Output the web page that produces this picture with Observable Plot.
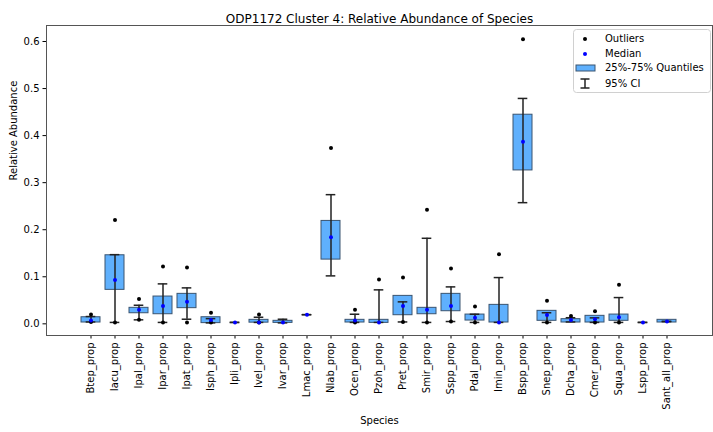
<!DOCTYPE html>
<html><head><meta charset="utf-8">
<script src="https://cdn.jsdelivr.net/npm/d3@7"></script>
<script src="https://cdn.jsdelivr.net/npm/@observablehq/plot@0.6"></script>
<style>
body{margin:0;background:#fff;font-family:"DejaVu Sans",sans-serif;}
#wrap{position:relative;width:713px;height:432px;overflow:hidden;}
#legend{position:absolute;left:573px;top:29px;}
</style></head><body><div id="wrap"></div>
<script>
const species = ["Btep_prop","Iacu_prop","Ipal_prop","Ipar_prop","Ipat_prop","Isph_prop","Ipli_prop","Ivel_prop","Ivar_prop","Lmac_prop","Nlab_prop","Ocen_prop","Pzoh_prop","Pret_prop","Smir_prop","Sspp_prop","Pdal_prop","Imin_prop","Bspp_prop","Snep_prop","Dcha_prop","Cmer_prop","Squa_prop","Lspp_prop","Sant_all_prop"];
const q1 =     [0.0028,0.0722,0.0225,0.0204,0.0333,0.0015,0.003,0.0025,0.002,0.0195,0.1365,0.0028,0.002,0.0183,0.0204,0.0268,0.007,0.0028,0.326,0.0064,0.0028,0.0028,0.0064,0.003,0.0028];
const q3 =     [0.014,0.1457,0.034,0.058,0.0637,0.014,0.003,0.0085,0.0064,0.0195,0.2187,0.0085,0.0085,0.0594,0.034,0.0637,0.0197,0.0403,0.4444,0.0276,0.0099,0.017,0.0197,0.003,0.0085];
const median = [0.007,0.0934,0.0297,0.038,0.0467,0.008,0.003,0.003,0.003,0.0195,0.1839,0.007,0.003,0.038,0.0297,0.038,0.0127,0.003,0.3867,0.019,0.008,0.0098,0.014,0.003,0.005];
const ciLow =  [0.004,0.003,0.0085,0.003,0.0098,0.002,0.003,0.003,0.002,0.0195,0.1019,0.003,0.003,0.004,0.003,0.0049,0.003,0.003,0.2575,0.003,0.004,0.003,0.003,0.003,0.005];
const ciHigh = [0.0155,0.147,0.0395,0.0849,0.0764,0.011,0.003,0.014,0.0098,0.0195,0.2745,0.0204,0.0722,0.0467,0.1818,0.0785,0.0204,0.0983,0.479,0.0235,0.013,0.0127,0.0558,0.003,0.005];
const outliers = [[0.0197,0.004],[0.2208,0.003],[0.053,0.0085],[0.1217,0.003],[0.1195,0.003],[0.0233,0.003],[],[0.0197,0.003],[],[],[0.3737],[0.0297,0.003],[0.094],[0.0983,0.004],[0.2427,0.003],[0.1174,0.0049],[0.0367,0.003],[0.1478],[0.6047],[0.0488,0.003],[0.0165],[0.0268,0.003],[0.0828,0.003],[],[]];
const yTicks = [0,0.1,0.2,0.3,0.4,0.5,0.6];
const title = "ODP1172 Cluster 4: Relative Abundance of Species";
const xLabel = "Species";
const yLabel = "Relative Abundance";
const legendLabels = ["Outliers","Median","25%-75% Quantiles","95% CI"];

const boxFill = "#5fb0fd", boxStroke = "#3a5470", ciColor = "#222";

const rows = species.map((s,i)=>({s, q1:q1[i], q3:q3[i], med:median[i], lo:ciLow[i], hi:ciHigh[i]}));
const outRows = species.flatMap((s,i)=>outliers[i].map(v=>({s, v})));

const plot = Plot.plot({
  width:713, height:432, marginTop:25, marginLeft:46, marginRight:1, marginBottom:97,
  style:{fontFamily:"DejaVu Sans", fontSize:"10px", color:"#000", background:"#fff", overflow:"visible"},
  x:{domain:species, paddingInner:0.2, paddingOuter:1.25, align:0.5, label:null},
  y:{domain:[-0.0248,0.634], label:null},
  marks:[
    Plot.barY(rows,{x:"s", y1:"q1", y2:"q3", fill:boxFill, stroke:boxStroke, strokeWidth:1}),
    Plot.ruleX(rows,{x:"s", y1:"lo", y2:"hi", stroke:ciColor, strokeWidth:1.5}),
    Plot.tickY(rows,{x:"s", y:"lo", stroke:ciColor, strokeWidth:1.5, insetLeft:4.7, insetRight:4.7}),
    Plot.tickY(rows,{x:"s", y:"hi", stroke:ciColor, strokeWidth:1.5, insetLeft:4.7, insetRight:4.7}),
    Plot.dot(outRows,{x:"s", y:"v", r:2, fill:"#000", stroke:null}),
    Plot.dot(rows,{x:"s", y:"med", r:2, fill:"#0000ff", stroke:null}),
    Plot.axisX({tickRotate:-90, tickSize:3.5, tickPadding:3.5, label:null, fontSize:10}),
    Plot.axisY({ticks:yTicks, tickFormat:d3.format(".1f"), tickSize:3.5, tickPadding:3.5, label:null, fontSize:10}),
    Plot.frame({stroke:"#555"}),
    Plot.text([title],{frameAnchor:"top", dy:-11, fontSize:12, fill:"#000"}),
    Plot.text([xLabel],{frameAnchor:"bottom", dy:88, fontSize:10, fill:"#000"}),
    Plot.text([yLabel],{frameAnchor:"left", dx:-33, rotate:-90, fontSize:10, fill:"#000"})
  ]
});
const wrap = document.getElementById("wrap");
wrap.appendChild(plot);

// legend
const ns = "http://www.w3.org/2000/svg";
const lg = document.createElementNS(ns,"svg");
lg.setAttribute("id","legend");
lg.setAttribute("width","139"); lg.setAttribute("height","65");
lg.innerHTML = `
<rect x="0.5" y="0.5" width="137" height="63" rx="3" fill="rgba(255,255,255,0.85)" stroke="#d0d0d0"/>
<circle cx="12" cy="10" r="2" fill="#000"/>
<circle cx="12" cy="25" r="2" fill="#0000ff"/>
<rect x="3" y="36" width="19" height="6" fill="${boxFill}" stroke="${boxStroke}"/>
<line x1="12" x2="12" y1="50" y2="59" stroke="${ciColor}" stroke-width="1.5"/>
<line x1="7.5" x2="16.5" y1="50" y2="50" stroke="${ciColor}" stroke-width="1.5"/>
<line x1="7.5" x2="16.5" y1="59" y2="59" stroke="${ciColor}" stroke-width="1.5"/>
`;
const ys = [10,25,39,55];
legendLabels.forEach((t,i)=>{
  const tx = document.createElementNS(ns,"text");
  tx.setAttribute("x","32"); tx.setAttribute("y",String(ys[i]));
  tx.setAttribute("dominant-baseline","middle");
  tx.setAttribute("font-family","DejaVu Sans"); tx.setAttribute("font-size","10");
  tx.textContent = t;
  lg.appendChild(tx);
});
wrap.appendChild(lg);
</script>
</body></html>
